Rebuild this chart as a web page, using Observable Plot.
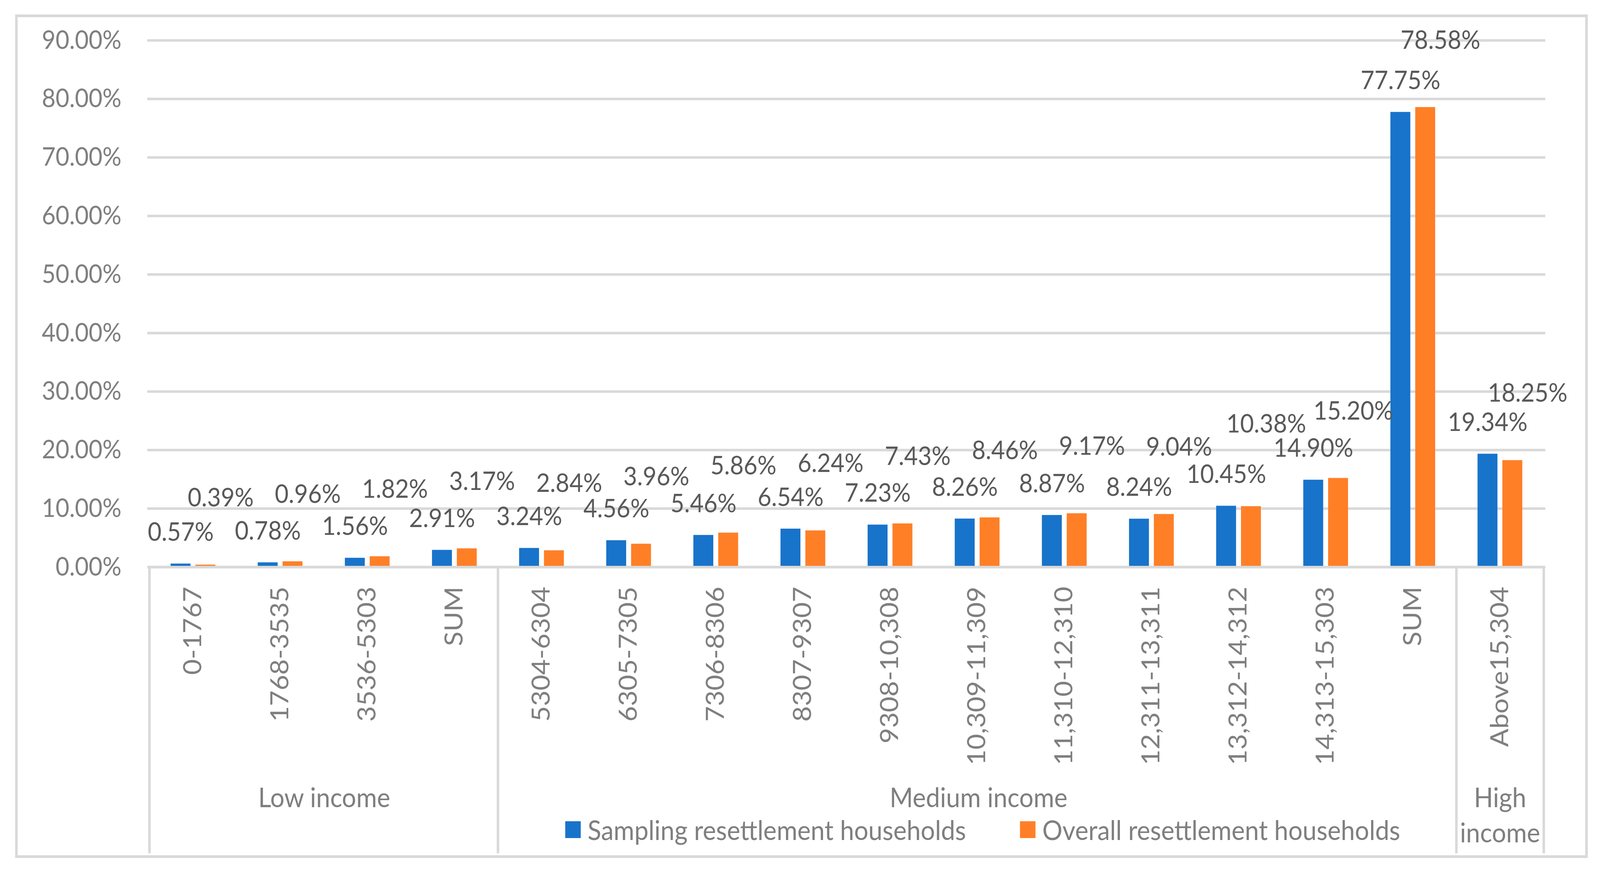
<!DOCTYPE html>
<html>
<head>
<meta charset="utf-8">
<script src="https://cdn.jsdelivr.net/npm/d3@7"></script>
<script src="https://cdn.jsdelivr.net/npm/@observablehq/plot@0.6"></script>
<style>
html, body { margin: 0; padding: 0; background: #fff; overflow: hidden; }
#wrap { position: relative; width: 4444px; height: 2237px; overflow: hidden; background: #fff; transform-origin: 0 0; }
#chart { position: absolute; left: 0; top: 0; }
#border { position: absolute; left: 42px; top: 37px; width: 4368px; height: 2159px; box-sizing: border-box; border: 7px solid #d9d9d9; pointer-events: none; }
#legend { position: absolute; left: 1570px; top: 2081px; }
#legend > div { margin: 0 !important; font-family: Lato, "Open Sans", sans-serif !important; font-size: 70px !important; color: #7f7f7f !important; }
#legend > div > span { margin-right: 150px !important; }
#legend > div > span > svg { margin-right: 19px !important; }
</style>
</head>
<body>
<div id="wrap"><div id="chart"></div><div id="border"></div><div id="legend"></div></div>
<script>
// ---- data ----
const categories = ["0-1767", "1768-3535", "3536-5303", "SUM", "5304-6304", "6305-7305", "7306-8306", "8307-9307", "9308-10,308", "10,309-11,309", "11,310-12,310", "12,311-13,311", "13,312-14,312", "14,313-15,303", "SUM", "Above15,304"];
const incomeGroups = ["Low income", "Low income", "Low income", "Low income", "Medium income", "Medium income", "Medium income", "Medium income", "Medium income", "Medium income", "Medium income", "Medium income", "Medium income", "Medium income", "Medium income", "High income"];
const sampling = [0.57, 0.78, 1.56, 2.91, 3.24, 4.56, 5.46, 6.54, 7.23, 8.26, 8.87, 8.24, 10.45, 14.90, 77.75, 19.34];
const overall = [0.39, 0.96, 1.82, 3.17, 2.84, 3.96, 5.86, 6.24, 7.43, 8.46, 9.17, 9.04, 10.38, 15.20, 78.58, 18.25];
const seriesNames = ["Sampling resettlement households", "Overall resettlement households"];
const seriesColors = ["#1873CA", "#FF7F27"];
const yTicks = [0, 10, 20, 30, 40, 50, 60, 70, 80, 90];

// ---- layout ----
const W = 4444, H = 2237, ML = 409, MR = 152, MT = 103, MB = 786;
const FS_NUM = 66, FS_CAT = 69, FS_WORD = 70;
const FONT = "Lato, 'Open Sans', sans-serif";
const grid = "#d9d9d9";
const bw = (W - ML - MR) / categories.length;
const barW = 56, gap = 13;
const sepDrop = 733;
const yMax = yTicks[yTicks.length - 1];
const pxPerUnit = (H - MT - MB) / yMax;
const blueLift = 80 / pxPerUnit, orangeLift = 171 / pxPerUnit, minSep = 62 / pxPerUnit;

const rows = categories.map((c, i) => ({key: i + "|" + c, label: c, group: incomeGroups[i], sampling: sampling[i], overall: overall[i]}));
rows.forEach(d => { d.ys = d.sampling + blueLift; d.yo = d.overall + orangeLift; });
// nudge an orange label up when it would collide with the next category's blue label
rows.forEach((d, i) => {
  const nx = rows[i + 1];
  if (nx && Math.abs(d.yo - nx.ys) < minSep) d.yo = Math.max(d.yo, nx.ys + minSep);
});
const keys = rows.map(d => d.key);
const pct = v => v.toFixed(2) + "%";

const groupList = Array.from(new Set(incomeGroups)).map(g => {
  const m = rows.filter(d => d.group === g);
  return {name: g, first: m[0].key, last: m[m.length - 1].key, count: m.length};
});

const chart = Plot.plot({
  width: W, height: H,
  marginLeft: ML, marginRight: MR, marginTop: MT, marginBottom: MB,
  style: {fontFamily: FONT, fontSize: FS_NUM + "px", color: "#7f7f7f", background: "transparent"},
  x: {domain: keys, padding: 0, tickFormat: k => k.split("|")[1], tickRotate: -90, tickSize: 0, tickPadding: 50, label: null, fontSize: FS_CAT},
  y: {domain: [0, yMax], ticks: yTicks, tickFormat: d => d.toFixed(2) + "%", tickSize: 0, tickPadding: 72, label: null},
  color: {domain: seriesNames, range: seriesColors},
  marks: [
    Plot.ruleY(yTicks, {stroke: grid, strokeWidth: 6.5}),
    Plot.barY(rows, {x: "key", y: "sampling", fill: () => seriesNames[0], insetLeft: bw / 2 - gap / 2 - barW, insetRight: bw / 2 + gap / 2}),
    Plot.barY(rows, {x: "key", y: "overall", fill: () => seriesNames[1], insetLeft: bw / 2 + gap / 2, insetRight: bw / 2 - gap / 2 - barW}),
    Plot.ruleY([0], {stroke: grid, strokeWidth: 6.5}),
    Plot.ruleX(groupList, {x: "first", y1: 0, y2: 0, dx: -bw / 2, insetBottom: -sepDrop, stroke: grid, strokeWidth: 7}),
    Plot.ruleX(groupList.slice(-1), {x: "last", y1: 0, y2: 0, dx: bw / 2, insetBottom: -sepDrop, stroke: grid, strokeWidth: 7}),
    Plot.text(rows, {x: "key", y: "ys", text: d => pct(d.sampling), dx: -(gap / 2 + barW / 2), fill: "#595959", fontSize: FS_NUM}),
    Plot.text(rows, {x: "key", y: "yo", text: d => pct(d.overall), dx: gap / 2 + barW / 2 + 42, fill: "#595959", fontSize: FS_NUM}),
    ...groupList.map(g => Plot.text([g], {
      x: "first", text: "name", frameAnchor: "bottom",
      dx: (g.count - 1) * bw / 2, dy: 551,
      lineAnchor: "top", lineWidth: g.count * bw / FS_WORD * 0.9, lineHeight: 90 / FS_WORD,
      fill: "#7f7f7f", fontSize: FS_WORD
    }))
  ]
});
chart.querySelectorAll("g[aria-label='x-axis tick label'], g[aria-label='x-axis']").forEach(g => g.setAttribute("font-size", FS_CAT));
document.getElementById("chart").appendChild(chart);

const legend = chart.legend("color", {swatchSize: 43, style: {fontFamily: FONT, fontSize: FS_WORD + "px", color: "#7f7f7f"}});
if (legend) document.getElementById("legend").appendChild(legend);

// fit the 4444x2237 layout onto the actual viewport
const kx = window.innerWidth / W, ky = window.innerHeight / H;
if (Math.abs(kx - 1) > 0.001 || Math.abs(ky - 1) > 0.001) document.getElementById("wrap").style.transform = `scale(${kx}, ${ky})`;
</script>
</body>
</html>
